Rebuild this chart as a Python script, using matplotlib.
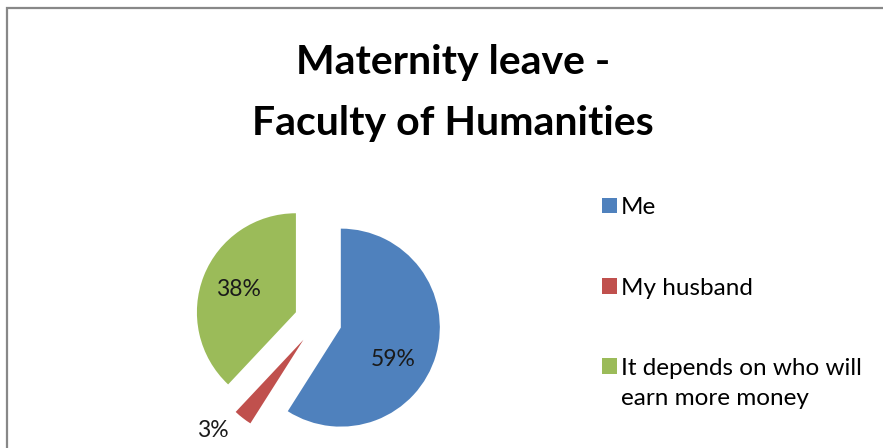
import matplotlib
matplotlib.use("Agg")
import matplotlib.pyplot as plt
import numpy as np
from matplotlib.patches import Patch, Rectangle

categories = ["Me", "My husband", "It depends on who will\nearn more money"]
values = [59, 3, 38]
colors = ["#4F81BD", "#C0504D", "#9BBB59"]
title = "Maternity leave -\nFaculty of Humanities"

plt.rcParams['font.family'] = ['Lato', 'DejaVu Sans']

W, H = 883, 448
fig = plt.figure(figsize=(W / 100, H / 100), dpi=100)

# chart border (bottom is cropped in the reference)
fig.patches.append(Rectangle((6.5 / W, -0.1), 2.0, 1 - 8.5 / H + 0.1,
                             transform=fig.transFigure, fill=False,
                             edgecolor="#888888", linewidth=1.6))

# pie axes: center ~ (318, 321) px from top-left, radius ~ 99 px
R = 99
cx, cy = 318, 321
half = 1.5 * R
ax = fig.add_axes([(cx - half) / W, (H - cy - half) / H, 2 * half / W, 2 * half / H])

explode = [0.24] * len(values)
wedges, texts, autotexts = ax.pie(values, colors=colors, startangle=90,
                                  counterclock=False, explode=explode,
                                  autopct=lambda p: f"{p:.0f}%",
                                  pctdistance=0.62,
                                  textprops=dict(fontsize=16.5, color="#1a1a1a"),
                                  wedgeprops=dict(linewidth=0))
ax.set_xlim(-1.5, 1.5)
ax.set_ylim(-1.5, 1.5)
ax.set_aspect("equal")
ax.axis("off")
for w, t, v in zip(wedges, autotexts, values):
    ang = np.deg2rad((w.theta1 + w.theta2) / 2)
    if v < 10:
        t.set_position(((1.27 + 0.24) * np.cos(ang) - 0.14, (1.27 + 0.24) * np.sin(ang) + 0.09))
    elif v > 50:
        x, y = t.get_position()
        t.set_position((x - 0.07, y - 0.15))

fig.text(453 / W, 1 - 93 / H, title, ha="center", va="center",
         fontsize=29.5, fontweight="bold", linespacing=1.78, color="black")

handles = [Patch(facecolor=c, edgecolor="none") for c in colors]
leg = fig.legend(handles, categories, loc="upper left",
                 bbox_to_anchor=(590 / W, 1 - 185 / H), frameon=False,
                 fontsize=17.5, handlelength=0.62, handleheight=0.62,
                 handletextpad=0.15, labelspacing=2.45, borderpad=0)
for t in leg.get_texts():
    t.set_linespacing(1.5)

# align the marker of a multi-line entry with its first line
try:
    for col in leg._legend_handle_box.get_children():
        for item in col.get_children():
            kids = item.get_children()
            txt = [k for k in kids if hasattr(k, "_text")]
            if txt and "\n" in txt[0]._text.get_text():
                item.align = "top"
except Exception:
    pass

fig.savefig("out.png", dpi=100)
